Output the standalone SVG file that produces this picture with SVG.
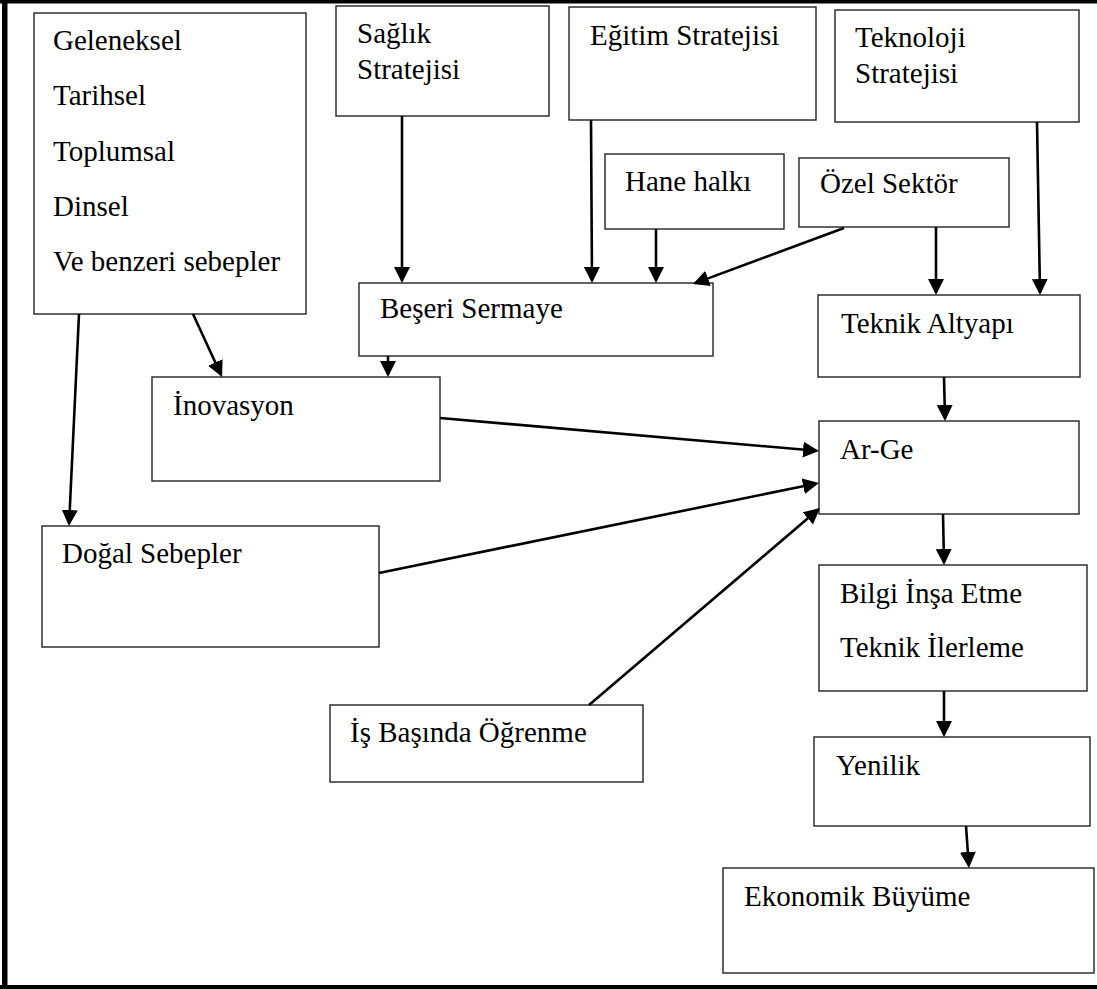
<svg xmlns="http://www.w3.org/2000/svg" width="1097" height="989" viewBox="0 0 1097 989">
<style>
.box{fill:#fff;stroke:#222;stroke-width:1.4}
.c{stroke:#000;stroke-width:2.6;fill:none;marker-end:url(#ah)}
</style>
<defs>
<marker id="ah" viewBox="0 0 16 16" refX="13.5" refY="8" markerWidth="16" markerHeight="16" markerUnits="userSpaceOnUse" orient="auto">
<path d="M0,0 L16,8 L0,16 z" fill="#000"/>
</marker>
</defs>
<rect x="0" y="0" width="1097" height="989" fill="#fff"/>
<g id="frame" fill="#000">
<rect x="0" y="0" width="1097" height="3.5"/>
<rect x="2" y="0" width="5.5" height="989"/>
<rect x="0" y="985" width="1097" height="4"/>
</g>
<g id="nodes" font-family="Liberation Serif, Times New Roman, Tinos, DejaVu Serif, serif" font-size="29" fill="#000">
<g id="n-geleneksel"><rect class="box" x="34" y="13" width="272" height="301"/>
<text x="53" y="50">Geleneksel</text><text x="53" y="105">Tarihsel</text><text x="53" y="161">Toplumsal</text><text x="53" y="216">Dinsel</text><text x="53" y="271">Ve benzeri sebepler</text></g>
<g id="n-saglik"><rect class="box" x="336" y="6" width="213" height="110"/>
<text x="357" y="43">Sağlık</text><text x="357" y="79">Stratejisi</text></g>
<g id="n-egitim"><rect class="box" x="569" y="7" width="247" height="113"/>
<text x="590" y="45">Eğitim Stratejisi</text></g>
<g id="n-teknoloji"><rect class="box" x="835" y="10" width="244" height="112"/>
<text x="855" y="47">Teknoloji</text><text x="855" y="83">Stratejisi</text></g>
<g id="n-hane"><rect class="box" x="605" y="154" width="179" height="75"/>
<text x="625" y="191">Hane halkı</text></g>
<g id="n-ozel"><rect class="box" x="799" y="158" width="210" height="69"/>
<text x="820" y="193">Özel Sektör</text></g>
<g id="n-beseri"><rect class="box" x="359" y="283" width="354" height="73"/>
<text x="380" y="318">Beşeri Sermaye</text></g>
<g id="n-teknik"><rect class="box" x="818" y="295" width="262" height="82"/>
<text x="841" y="333">Teknik Altyapı</text></g>
<g id="n-inovasyon"><rect class="box" x="152" y="377" width="288" height="104"/>
<text x="173" y="415">İnovasyon</text></g>
<g id="n-arge"><rect class="box" x="819" y="421" width="260" height="93"/>
<text x="840" y="459">Ar-Ge</text></g>
<g id="n-dogal"><rect class="box" x="42" y="526" width="337" height="121"/>
<text x="62" y="563">Doğal Sebepler</text></g>
<g id="n-bilgi"><rect class="box" x="819" y="565" width="268" height="126"/>
<text x="840" y="603">Bilgi İnşa Etme</text><text x="840" y="657">Teknik İlerleme</text></g>
<g id="n-is"><rect class="box" x="330" y="705" width="313" height="77"/>
<text x="350" y="742">İş Başında Öğrenme</text></g>
<g id="n-yenilik"><rect class="box" x="814" y="737" width="276" height="89"/>
<text x="836" y="775">Yenilik</text></g>
<g id="n-ekonomik"><rect class="box" x="723" y="868" width="371" height="105"/>
<text x="744" y="906">Ekonomik Büyüme</text></g>
</g>
<g id="connectors">
<line class="c" x1="402" y1="116" x2="402" y2="280.5"/>
<line class="c" x1="591" y1="120" x2="592" y2="280.5"/>
<line class="c" x1="656" y1="229" x2="656" y2="280.5"/>
<line class="c" x1="844" y1="228" x2="695.3" y2="283.1"/>
<line class="c" x1="936" y1="227" x2="936" y2="292.5"/>
<line class="c" x1="1037" y1="122" x2="1040" y2="292.5"/>
<line class="c" x1="79" y1="314" x2="69.1" y2="523.5"/>
<line class="c" x1="193" y1="314" x2="221" y2="374.7"/>
<line class="c" x1="388" y1="356" x2="388" y2="374.5"/>
<line class="c" x1="440" y1="418" x2="816.5" y2="450.8"/>
<line class="c" x1="379" y1="573" x2="816.5" y2="483.5"/>
<line class="c" x1="589" y1="705" x2="818.1" y2="509.6"/>
<line class="c" x1="944" y1="377" x2="945" y2="418.5"/>
<line class="c" x1="943" y1="514" x2="944" y2="562.5"/>
<line class="c" x1="944" y1="691" x2="944" y2="734.5"/>
<line class="c" x1="966" y1="826" x2="968.8" y2="865.5"/>
</g>
</svg>
